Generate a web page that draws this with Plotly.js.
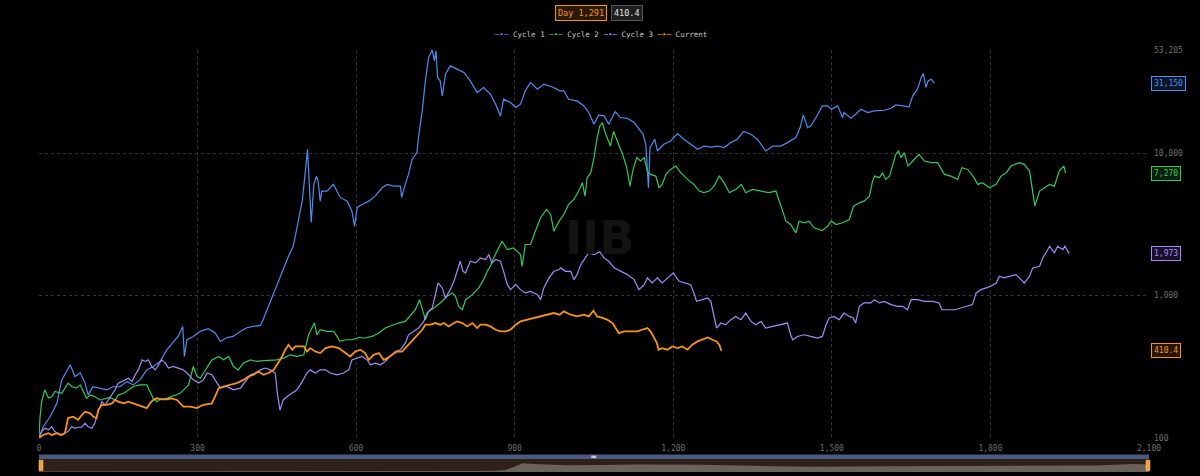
<!DOCTYPE html>
<html>
<head>
<meta charset="utf-8">
<script src="https://cdn.plot.ly/plotly-3.0.1.min.js"></script>
<style>
  html, body { margin: 0; padding: 0; background: #000; }
  #chart { width: 1200px; height: 476px; }
</style>
</head>
<body>
<div id="chart"></div>
<script>
// days since cycle low / value indexed to 100 at the low
const c1Days = [0,8,21,34,43,59,68,78,87,93,102,128,140,153,166,178,191,204,216,229,242,254,263,272,275,280,292,305,320,333,343,355,367,381,393,405,419,424,434,443,453,462,472,481,488,498,504,508,512,515,520,525,528,532,535,545,557,570,583,592,597,602,611,624,636,649,659,671,684,686,693,699,706,715,718,725,731,737,744,748,751,754,759,763,769,778,791,804,816,829,841,854,864,873,879,892,902,911,920,930,943,955,974,985,993,1002,1018,1031,1040,1050,1059,1069,1078,1090,1100,1113,1126,1135,1143,1148,1153,1156,1165,1170,1182,1195,1208,1220,1233,1246,1258,1271,1284,1296,1309,1321,1333,1347,1359,1375,1388,1403,1416,1432,1440,1446,1454,1460,1470,1482,1492,1499,1511,1520,1523,1536,1545,1555,1568,1580,1599,1612,1621,1634,1646,1653,1662,1669,1673,1678,1682,1688,1694];
const c1Vals = [100,120,141,176,256,327,270,287,244,201,229,218,229,229,249,236,256,301,318,345,417,467,517,608,374,490,517,561,586,549,477,506,517,561,595,608,618,678,841,1016,1235,1525,1891,2224,3076,4613,7502,10670,5430,3266,6050,6920,6380,4613,5430,5430,6050,4900,4613,3925,3076,4167,4375,4613,5005,5730,6050,5885,5885,4900,6050,7115,9070,10115,12970,19860,32290,47200,53205,44670,52500,34140,32290,25330,35980,41170,39040,36990,32290,26750,29000,26030,22130,18320,23990,22760,20990,22130,27480,31480,28230,30620,29000,27480,27480,23990,23350,21540,19350,16000,18620,18320,16000,19670,17840,17630,16450,14760,13610,11570,5730,10970,12560,10380,11570,12210,13770,12560,11570,10670,11250,11070,11250,10970,11890,12560,14220,13610,12560,10380,11250,11250,11890,12910,15170,18620,15170,15570,17840,21540,21540,20420,21540,17840,19350,17630,18830,20420,19350,19860,20080,20740,21880,21540,21190,25330,28230,34140,36390,29000,32290,33190,31150];

const c2Days = [0,2,5,11,15,18,24,30,43,49,55,62,71,78,84,90,97,106,116,125,134,144,150,160,169,179,191,204,210,216,223,229,242,254,267,277,283,292,299,305,318,327,340,349,359,368,377,387,400,412,425,438,450,463,475,488,501,510,516,521,526,532,545,557,564,569,580,592,605,617,630,643,655,668,680,693,703,712,720,725,731,737,747,759,772,782,788,794,801,807,820,832,841,848,854,860,870,876,886,898,911,914,920,930,939,949,960,968,974,984,993,1002,1012,1021,1028,1033,1037,1044,1050,1056,1061,1066,1070,1076,1081,1087,1094,1104,1112,1118,1124,1131,1138,1145,1151,1157,1167,1173,1179,1186,1195,1205,1214,1227,1239,1249,1258,1268,1277,1287,1296,1306,1318,1329,1337,1350,1366,1381,1394,1400,1407,1413,1422,1432,1438,1448,1457,1466,1478,1482,1492,1499,1508,1520,1533,1541,1552,1561,1571,1577,1581,1590,1596,1602,1609,1615,1621,1626,1631,1637,1644,1653,1665,1675,1688,1700,1713,1725,1738,1746,1757,1769,1776,1785,1798,1811,1820,1830,1839,1855,1864,1874,1880,1884,1893,1902,1912,1921,1930,1939,1942];
const c2Vals = [100,141,180,218,201,191,195,212,206,224,243,230,224,236,212,190,201,195,185,190,193,185,201,206,218,230,236,236,212,190,180,187,190,198,206,224,236,318,270,263,318,354,374,354,374,318,301,336,354,345,350,350,354,364,384,374,384,531,592,642,531,576,561,561,517,477,490,490,508,504,517,546,592,618,642,659,735,796,937,819,678,775,819,889,989,1045,989,841,796,937,1016,1133,1296,1483,1608,1842,2167,2412,2108,2167,1944,1608,2287,2287,2837,3525,4035,3718,2837,3337,3718,4375,4743,5430,6220,5005,6745,7310,9330,12910,15570,16450,14360,12560,11250,14220,12210,9840,7930,5885,7710,9330,8830,9330,7502,7115,6920,5730,6050,7115,7710,8140,7310,6560,6050,5430,5290,5430,5885,6920,6220,5290,5575,6050,5290,5575,5430,5290,5430,4743,3925,3337,3162,2764,3337,3250,3337,2998,2917,2870,3076,3337,3162,3250,3428,4255,4497,4613,5005,6380,6920,6745,7310,6560,6920,8140,9840,10380,9330,10115,8140,8830,9840,8830,8600,8600,7115,6920,6560,7930,7710,6745,6050,6220,5730,6050,6920,7310,8140,8600,8370,7502,5430,4255,5430,5730,6050,5885,7502,8140,7270];

const c3Days = [0,5,11,18,24,30,40,49,55,62,68,74,81,87,93,100,106,112,119,125,131,138,144,150,157,163,169,176,182,188,195,201,207,213,220,226,232,239,245,254,264,273,280,286,292,302,311,318,327,337,343,355,368,381,390,400,409,419,428,438,447,451,456,462,469,479,488,498,507,513,523,532,542,551,564,576,586,592,602,611,621,627,636,646,655,665,674,684,693,699,709,718,728,734,744,750,755,763,769,778,785,791,797,802,807,816,826,835,845,851,857,864,873,879,886,892,902,911,920,930,943,949,955,965,974,984,987,996,1006,1012,1018,1025,1031,1040,1050,1061,1069,1078,1088,1100,1113,1126,1135,1145,1151,1160,1170,1179,1189,1200,1211,1220,1233,1239,1244,1255,1265,1271,1277,1282,1290,1299,1309,1318,1328,1337,1347,1356,1366,1375,1388,1400,1416,1422,1426,1435,1448,1460,1473,1482,1489,1495,1504,1514,1523,1533,1540,1545,1552,1561,1574,1580,1590,1599,1612,1624,1634,1643,1650,1662,1675,1691,1703,1708,1719,1732,1744,1757,1766,1773,1782,1792,1801,1811,1817,1826,1839,1848,1855,1864,1874,1880,1893,1899,1905,1912,1921,1927,1937,1941,1949];
const c3Vals = [100,111,117,114,120,111,105,108,111,120,117,119,119,127,120,117,128,153,180,171,185,206,218,243,249,256,263,249,278,301,354,345,354,318,301,327,354,336,310,318,310,301,286,270,256,243,256,286,278,243,224,230,218,224,249,278,286,301,310,301,286,206,157,185,195,206,218,249,286,301,286,301,301,286,278,286,301,354,364,374,354,327,336,327,345,374,405,417,464,531,561,592,659,755,819,1016,1228,1133,963,1102,1261,1483,1744,1483,1445,1744,1700,1842,1793,1944,1700,1793,1744,1483,1195,1102,1195,1102,1045,1072,1016,937,1133,1333,1483,1525,1567,1483,1483,1296,1406,1653,1793,1999,1944,2032,1842,1744,1567,1483,1406,1296,1102,1195,1333,1228,1333,1228,1333,1445,1261,1228,1195,1045,912,937,963,912,697,592,642,625,678,715,678,755,659,625,659,592,608,625,642,531,490,517,531,517,504,517,625,697,715,678,755,715,700,642,841,889,889,937,889,912,865,841,841,796,937,937,912,912,889,796,796,796,819,841,865,1045,1102,1133,1164,1228,1368,1333,1368,1406,1333,1228,1368,1567,1608,1842,1999,2224,1999,2224,2108,2224,1973];

const curDays = [0,8,18,24,34,43,49,52,55,65,74,81,87,97,103,109,112,119,128,138,144,150,160,169,179,188,198,204,210,216,223,232,242,251,261,267,273,286,299,311,327,333,340,349,362,374,387,396,406,415,425,434,444,450,460,466,472,479,485,491,501,507,513,523,532,542,554,567,580,589,598,608,617,624,633,643,652,659,668,677,687,696,706,715,725,731,741,750,759,766,775,785,791,801,810,820,829,835,845,854,864,873,883,892,902,911,924,936,949,962,974,985,993,1006,1018,1031,1040,1049,1056,1066,1075,1085,1091,1097,1107,1119,1132,1141,1151,1157,1163,1169,1172,1179,1189,1198,1208,1217,1227,1236,1246,1255,1265,1274,1282,1287,1291];
const curVals = [100,105,108,105,108,105,108,123,138,141,134,145,153,149,141,138,157,171,171,175,185,180,175,180,175,171,166,162,175,185,190,187,187,190,185,175,166,166,162,171,175,195,224,230,236,243,256,270,278,293,278,286,301,327,374,417,452,417,440,440,440,405,428,405,395,428,440,428,395,374,405,417,395,354,384,395,354,364,384,405,405,440,477,517,576,625,625,642,625,642,608,642,659,642,608,642,592,625,625,608,576,561,561,576,625,659,678,697,715,735,755,735,775,735,715,735,715,784,715,697,678,642,592,546,561,561,561,576,592,561,504,464,417,428,417,440,428,440,417,452,477,490,508,490,477,452,410.4];

// navigator strip under the chart (relative height, 0-100)
const navDays = [0,300,560,600,630,700,820,860,880,900,915,935,960,1000,1060,1130,1250,1390,1460,1600,1750,1900,2000,2070,2100];
const navVals = [4,4,5,9,6,7,8,10,14,40,68,62,56,52,53,57,55,42,40,45,47,46,50,62,58];

const seriesNames = ['Cycle 1', 'Cycle 2', 'Cycle 3', 'Current'];
const seriesColors = ['#4c8ef0', '#2fca5f', '#a58af7', '#f7931a'];
const seriesBg = ['#0a1526', '#08200f', '#17122a', '#261606'];

const xTicks = [0, 300, 600, 900, 1200, 1500, 1800, 2100];
const yTicks = [100, 1000, 10000, 53205];

const fmt = v => v.toLocaleString('en-US', { maximumFractionDigits: 1 });

const allDays = [c1Days, c2Days, c3Days, curDays];
const allVals = [c1Vals, c2Vals, c3Vals, curVals];

var data = allDays.map((d, i) => ({
    type: 'scatter',
    mode: 'lines',
    name: seriesNames[i],
    x: d,
    y: allVals[i],
    xaxis: 'x',
    yaxis: 'y',
    line: { color: seriesColors[i], width: i === 3 ? 1.8 : 1.2 },
    showlegend: false,
    hoverinfo: 'skip'
}));

data.push({
    type: 'scatter',
    mode: 'lines',
    x: navDays,
    y: navVals,
    xaxis: 'x2',
    yaxis: 'y2',
    fill: 'tozeroy',
    fillcolor: '#6c6156',
    line: { width: 0, color: '#6c6156' },
    showlegend: false,
    hoverinfo: 'skip'
});

// right side last-value tags
var annotations = allVals.map((v, i) => ({
    xref: 'paper', yref: 'y',
    x: 1.002, xanchor: 'left',
    y: Math.log10(v[v.length - 1]), yanchor: 'middle',
    text: fmt(v[v.length - 1]),
    showarrow: false,
    font: { family: 'DejaVu Sans Mono', size: 8, color: seriesColors[i] },
    bgcolor: seriesBg[i],
    bordercolor: seriesColors[i],
    borderwidth: 1,
    borderpad: 2
}));

// compact legend row (line-dot-line symbol + name)
annotations.push({
    xref: 'paper', yref: 'paper',
    x: 0.5055, xanchor: 'center',
    y: 1.036, yanchor: 'middle',
    text: seriesNames.map((n, i) =>
        '<span style="color:' + seriesColors[i] + '">─•─</span> ' + n).join(' '),
    showarrow: false,
    font: { family: 'DejaVu Sans Mono', size: 7.5, color: '#c8c8c8' }
});

const lastDay = curDays[curDays.length - 1];
const lastCur = curVals[curVals.length - 1];

annotations.push({
    xref: 'paper', yref: 'paper',
    x: 0.5117, xanchor: 'right',
    y: 1.088, yanchor: 'middle',
    text: 'Day ' + fmt(lastDay),
    showarrow: false,
    font: { family: 'DejaVu Sans Mono', size: 8.5, color: '#f7931a' },
    bgcolor: '#2a1906',
    bordercolor: '#f7931a',
    borderwidth: 1,
    borderpad: 2
});
annotations.push({
    xref: 'paper', yref: 'paper',
    x: 0.5153, xanchor: 'left',
    y: 1.088, yanchor: 'middle',
    text: fmt(lastCur),
    showarrow: false,
    font: { family: 'DejaVu Sans Mono', size: 8.5, color: '#e0e0e0' },
    bgcolor: '#1e1e1e',
    bordercolor: '#555555',
    borderwidth: 1,
    borderpad: 2
});

// faint watermark
annotations.push({
    xref: 'paper', yref: 'paper',
    x: 0.505, y: 0.555,
    text: '<b>IIB</b>',
    showarrow: false,
    font: { family: 'DejaVu Sans', size: 46, color: '#131313' }
});

var shapes = [
    { type: 'rect', xref: 'paper', yref: 'paper', x0: 0, x1: 1, y0: 0, y1: 0.0308,
      fillcolor: '#2f2117', line: { width: 0 }, layer: 'below' },
    { type: 'rect', xref: 'paper', yref: 'paper', x0: 0, x1: 1, y0: 0.0308, y1: 0.0415,
      fillcolor: '#4b5a83', line: { width: 0 }, layer: 'below' },
    { type: 'rect', xref: 'paper', yref: 'paper', x0: 0.0000, x1: 0.0036, y0: 0.003, y1: 0.028,
      fillcolor: '#f0a040', line: { width: 0.5, color: '#ffcf80' } },
    { type: 'rect', xref: 'paper', yref: 'paper', x0: 0.9973, x1: 1.0009, y0: 0.003, y1: 0.028,
      fillcolor: '#f0a040', line: { width: 0.5, color: '#ffcf80' } },
    { type: 'rect', xref: 'paper', yref: 'paper', x0: 0.4975, x1: 0.5020, y0: 0.033, y1: 0.039,
      fillcolor: '#c8c8d0', line: { width: 0 } }
];

var layout = {
    width: 1200,
    height: 476,
    paper_bgcolor: '#000000',
    plot_bgcolor: '#000000',
    margin: { l: 39, r: 51, t: 50, b: 4 },
    font: { family: 'DejaVu Sans Mono', size: 8, color: '#7a7a7a' },
    showlegend: false,
    xaxis: {
        domain: [0, 1],
        anchor: 'y',
        range: [0, 2100],
        tickvals: xTicks,
        ticktext: xTicks.map(fmt),
        showgrid: true,
        gridcolor: '#363636',
        griddash: 'dot',
        gridwidth: 1,
        zeroline: false,
        showline: false,
        ticks: '',
        ticklabelstandoff: 4,
        tickfont: { size: 8, color: '#6e6e6e' },
        fixedrange: true
    },
    yaxis: {
        domain: [0.0806, 1],
        anchor: 'x',
        type: 'log',
        side: 'right',
        range: [2, Math.log10(53205)],
        tickvals: yTicks,
        ticktext: yTicks.map(fmt),
        showgrid: true,
        gridcolor: '#363636',
        griddash: 'dot',
        gridwidth: 1,
        zeroline: false,
        showline: false,
        ticks: '',
        ticklabelstandoff: 4,
        tickfont: { size: 8, color: '#6e6e6e' },
        fixedrange: true
    },
    xaxis2: {
        domain: [0, 1],
        anchor: 'y2',
        range: [0, 2100],
        visible: false,
        fixedrange: true
    },
    yaxis2: {
        domain: [0, 0.0308],
        anchor: 'x2',
        range: [0, 100],
        visible: false,
        fixedrange: true
    },
    annotations: annotations,
    shapes: shapes
};

Plotly.newPlot('chart', data, layout, { displayModeBar: false, staticPlot: true });
</script>
</body>
</html>
